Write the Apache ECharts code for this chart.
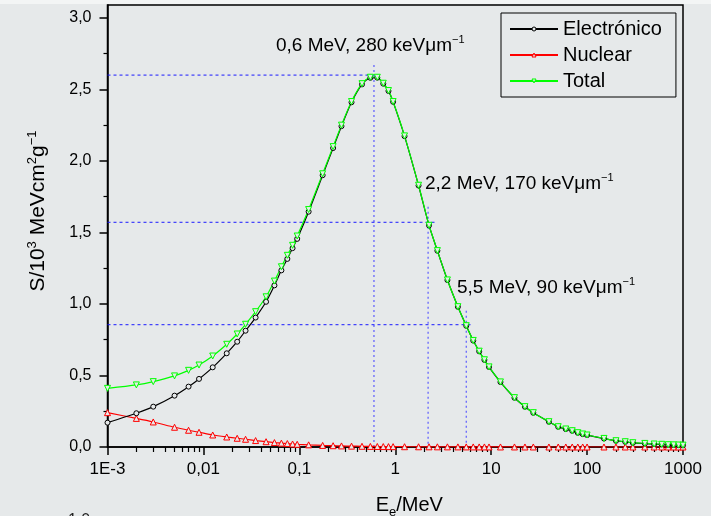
<!DOCTYPE html>
<html><head><meta charset="utf-8">
<script src="https://cdn.jsdelivr.net/npm/echarts@6/dist/echarts.min.js"></script>
<style>html,body{margin:0;padding:0;background:#e6e9ea;}#c{width:711px;height:516px;}</style>
</head><body><div id="c"></div><script>
const energies = [0.001,0.002,0.003,0.005,0.007,0.009,0.0125,0.0175,0.0225,0.0275,0.035,0.045,
  0.055,0.065,0.075,0.085,0.095,0.125,0.175,0.225,0.275,0.35,0.45,
  0.55,0.65,0.75,0.85,0.95,1.25,1.75,2.25,2.75,3.5,4.5,
  5.5,6.5,7.5,8.5,9.5,12.5,17.5,22.5,27.5,
  40,50,60,70,80,90,100,150,200,250,300,
  400,500,600,700,800,900,1000];
const electronic = [0.17,0.236,0.282,0.359,0.422,0.476,0.557,0.655,0.736,0.813,0.905,1.015,
  1.13,1.235,1.315,1.39,1.455,1.645,1.90,2.09,2.243,2.41,2.535,
  2.581,2.582,2.54,2.489,2.413,2.173,1.828,1.549,1.372,1.167,0.980,
  0.847,0.744,0.669,0.609,0.559,0.454,0.344,0.281,0.239,
  0.176,0.141,0.125,0.113,0.099,0.090,0.083,0.059,0.043,0.036,0.029,
  0.024,0.020,0.018,0.015,0.014,0.013,0.012];
const nuclear = [0.24,0.20,0.175,0.138,0.117,0.103,0.084,0.07,0.061,0.054,0.045,0.037,
  0.031,0.027,0.024,0.021,0.019,0.015,0.011,0.009,0.0075,0.006,0.005,
  0.004,0.0035,0.003,0.0027,0.0025,0.002,0.0016,0.0013,0.0011,0.0009,0.0007,
  0.0006,0.0005,0.00045,0.0004,0.00036,0.0003,0.00022,0.00018,0.00015,
  0.0001,0.00009,0.00008,0.00007,0.00006,0.00005,0.00005,0.00003,0.00003,0.00002,0.00002,
  0.00001,0.00001,0.00001,0.00001,0.00001,0.00001,0.00001];
const total = [0.41,0.434,0.457,0.497,0.536,0.573,0.636,0.718,0.79,0.858,0.946,1.05,
  1.16,1.26,1.34,1.41,1.475,1.66,1.91,2.10,2.25,2.415,2.54,
  2.585,2.585,2.543,2.492,2.415,2.175,1.83,1.55,1.373,1.168,0.981,
  0.848,0.745,0.67,0.61,0.56,0.455,0.345,0.282,0.24,
  0.177,0.142,0.126,0.114,0.100,0.091,0.084,0.060,0.044,0.037,0.030,
  0.025,0.021,0.019,0.016,0.015,0.014,0.013];
const seriesNames = ['Electrónico','Nuclear','Total'];
const xTickValues = [0.001,0.01,0.1,1,10,100,1000];
const xTickLabels = ['1E-3','0,01','0,1','1','10','100','1000'];
const xMinorTicks = [];
[0.001,0.01,0.1,1,10,100].forEach(d=>{for(let k=2;k<=9;k++) xMinorTicks.push(+(d*k).toPrecision(3));});
const yTickValues = [0,0.5,1,1.5,2,2.5,3];
const yMinorTicks = [0.25,0.75,1.25,1.75,2.25,2.75];
// annotated points: energy (MeV), stopping power, label text
const markE = [0.6, 2.2, 5.5];
const markS = [2.6, 1.571, 0.855];
const markLabels = ['0,6 MeV, 280 keVμm', '2,2 MeV, 170 keVμm', '5,5 MeV, 90 keVμm'];
// guide extents: horizontal line end energy, vertical line top value
const guideHEnd = [0.62, 2.67, 6.12];
const guideVTop = [2.67, 1.68, 0.953];

const zip = (xs, ys) => xs.map((x,i)=>[x, ys[i]]);
const BG = '#e6e9ea';
const FONT = '"Liberation Sans", Arial, sans-serif';
const colors = {'Electrónico':'#000000','Nuclear':'#ff0000','Total':'#00ff00'};

const guideSeries = [];
markE.forEach((e,i)=>{
  guideSeries.push({type:'line', silent:true, symbol:'none', z:1, data:[[0.001, markS[i]],[guideHEnd[i], markS[i]]],
    lineStyle:{color:'#1a1aff', width:1, type:[3,3]}});
  guideSeries.push({type:'line', silent:true, symbol:'none', z:1, data:[[e, guideVTop[i]],[e, 0]],
    lineStyle:{color:'#5a5aff', width:1.2, type:[2,3]}});
});

function mkSeries(name, vals, color, symbol, rotate){
  return {name, type:'line', data: zip(energies, vals), smooth:0.25, z:3,
    symbol, symbolSize: symbol==='circle'?5:6, symbolRotate: rotate||0,
    lineStyle:{color, width:1.2}, itemStyle:{color:BG, borderColor:color, borderWidth:1}};
}

const chart = echarts.init(document.getElementById('c'), null, {renderer:'canvas'});
chart.setOption({
  backgroundColor: BG,
  animation:false,
  textStyle:{fontFamily:FONT},
  grid:{left:107.5, right:28, top:5, bottom:69, show:true, borderColor:'#000', borderWidth:1.5,
    backgroundColor:'transparent', containLabel:false, outerBoundsMode:'none'},
  legend:{data:seriesNames.map(n=>({name:n, itemStyle:{color:BG, borderColor:colors[n], borderWidth:1}})),
    orient:'vertical', left:501, top:13, padding:[5,14,5,8], itemGap:4,
    itemWidth:48, itemHeight:5, backgroundColor:BG, borderColor:'#000', borderWidth:1,
    textStyle:{fontSize:20, lineHeight:22, color:'#000', fontFamily:FONT}},
  xAxis:[{type:'log', logBase:10, min:0.001, max:1000, gridIndex:0,
    name:'E{sub|e}/MeV', nameLocation:'middle', nameGap:45,
    nameTextStyle:{fontSize:20, color:'#000', fontFamily:FONT, padding:[0,0,0,28],
      rich:{sub:{fontSize:13, padding:[14,0,0,0], fontFamily:FONT}}},
    axisLine:{lineStyle:{color:'#000', width:1.5}},
    axisTick:{customValues:xTickValues, length:8, lineStyle:{color:'#000', width:1.5}},
    axisLabel:{customValues:xTickValues, fontSize:17, color:'#000', margin:14, fontFamily:FONT,
      formatter:v=>{let best=0;xTickValues.forEach((t,i)=>{if(Math.abs(Math.log10(v)-Math.log10(t))<Math.abs(Math.log10(v)-Math.log10(xTickValues[best])))best=i;});return xTickLabels[best];}},
    splitLine:{show:false}, minorTick:{show:false}},
   {type:'log', logBase:10, min:0.001, max:1000, gridIndex:0, position:'bottom', offset:0,
    axisLine:{show:false}, axisLabel:{show:false}, splitLine:{show:false},
    axisTick:{show:true, customValues:xMinorTicks, length:5, lineStyle:{color:'#000', width:1.2}}}],
  yAxis:[{type:'value', min:0, max:3.09, gridIndex:0, position:'left',
    name:'S/10{sup|3} MeVcm{sup|2}g{sup|−1}', nameLocation:'middle', nameGap:57, nameRotate:90,
    nameTextStyle:{fontSize:21, color:'#000', fontFamily:FONT, padding:[0,0,0,30],
      rich:{sup:{fontSize:13, padding:[0,0,12,0], fontFamily:FONT}}},
    axisLine:{show:true, lineStyle:{color:'#000', width:1.5}},
    axisTick:{show:true, customValues:yTickValues, length:8, lineStyle:{color:'#000', width:1.5}},
    axisLabel:{customValues:yTickValues, fontSize:16, color:'#000', margin:16, fontFamily:FONT,
      formatter:v=>v.toFixed(1).replace('.',',')},
    splitLine:{show:false}},
   {type:'value', min:0, max:3.09, gridIndex:0, position:'left', offset:0,
    axisLine:{show:false}, axisLabel:{show:false}, splitLine:{show:false},
    axisTick:{show:true, customValues:yMinorTicks, length:4, lineStyle:{color:'#000', width:1.2}}}],
  graphic:[
    {type:'rect', z:-10, shape:{x:0,y:0,width:711,height:4}, style:{fill:'#f3f5f5'}},
    {type:'text', left:276, top:34, style:{text:markLabels[0]+'{sup|−1}', fontSize:19, fill:'#000', fontFamily:FONT,
      rich:{sup:{fontSize:11, padding:[0,0,13,0], fill:'#000', fontFamily:FONT}}}},
    {type:'text', left:425, top:172, style:{text:markLabels[1]+'{sup|−1}', fontSize:19, fill:'#000', fontFamily:FONT,
      rich:{sup:{fontSize:11, padding:[0,0,13,0], fill:'#000', fontFamily:FONT}}}},
    {type:'text', left:457, top:276, style:{text:markLabels[2]+'{sup|−1}', fontSize:19, fill:'#000', fontFamily:FONT,
      rich:{sup:{fontSize:11, padding:[0,0,13,0], fill:'#000', fontFamily:FONT}}}},
    {type:'text', left:68, top:513, style:{text:'1,0', fontSize:16, fill:'#222', fontFamily:FONT}}
  ],
  series:[
    ...guideSeries,
    mkSeries(seriesNames[1], nuclear, '#ff0000', 'triangle', 0),
    mkSeries(seriesNames[0], electronic, '#000000', 'circle', 0),
    mkSeries(seriesNames[2], total, '#00ff00', 'triangle', 180)
  ]
});
</script></body></html>
